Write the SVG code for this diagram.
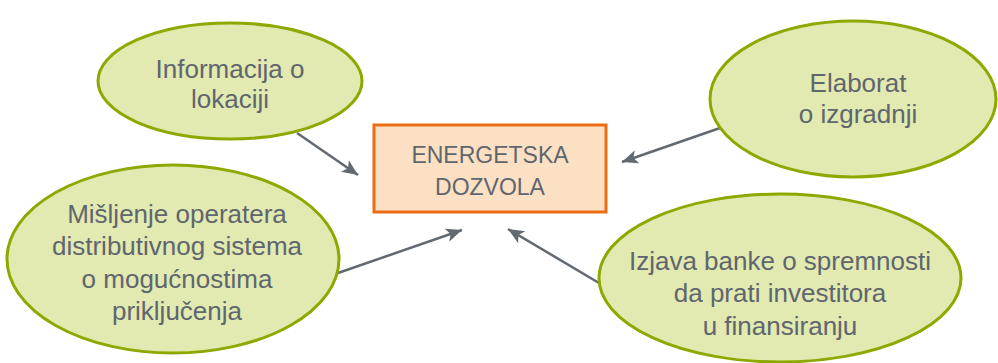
<svg xmlns="http://www.w3.org/2000/svg" width="998" height="363" viewBox="0 0 998 363">
<style>
.ell{fill:#E2E9B1;stroke:#8DA900;stroke-width:3}
.t{font-family:"Liberation Sans",Arial,sans-serif;font-size:26px;fill:#5F666D;text-anchor:middle}
.b{font-size:23px}
.c{stroke:#636970;stroke-width:2.5;fill:none;marker-end:url(#ah)}
</style>
<defs>
<marker id="ah" markerUnits="userSpaceOnUse" markerWidth="18" markerHeight="16" refX="16" refY="8" orient="auto">
<path d="M0,1 L16,8 L0,15 L4,8 Z" fill="#636970"/>
</marker>
</defs>
<rect width="998" height="363" fill="#fff"/>
<g id="connectors">
<line class="c" x1="297" y1="133" x2="358" y2="175"/>
<line class="c" x1="720" y1="128" x2="622" y2="162"/>
<line class="c" x1="338" y1="273" x2="462" y2="230"/>
<line class="c" x1="599" y1="283" x2="508" y2="229"/>
</g>
<g id="energetska">
<rect x="374" y="125" width="232" height="87" fill="#FCE0C3" stroke="#EC6C14" stroke-width="3"/>
<text class="t b" x="490" y="163">ENERGETSKA</text>
<text class="t b" x="490" y="195">DOZVOLA</text>
</g>
<g id="informacija">
<ellipse class="ell" cx="230" cy="81" rx="132" ry="58"/>
<text class="t" x="230" y="78">Informacija o</text>
<text class="t" x="230" y="108">lokaciji</text>
</g>
<g id="elaborat">
<ellipse class="ell" cx="853" cy="99" rx="143" ry="78"/>
<text class="t" x="858" y="92">Elaborat</text>
<text class="t" x="858" y="123">o izgradnji</text>
</g>
<g id="misljenje">
<ellipse class="ell" cx="173" cy="259" rx="166" ry="94"/>
<text class="t" x="177" y="223">Mišljenje operatera</text>
<text class="t" x="177" y="255">distributivnog sistema</text>
<text class="t" x="177" y="288">o mogućnostima</text>
<text class="t" x="177" y="320">priključenja</text>
</g>
<g id="izjava">
<ellipse class="ell" cx="780" cy="278" rx="181" ry="84"/>
<text class="t" x="780" y="270">Izjava banke o spremnosti</text>
<text class="t" x="780" y="302">da prati investitora</text>
<text class="t" x="780" y="335">u finansiranju</text>
</g>
</svg>
